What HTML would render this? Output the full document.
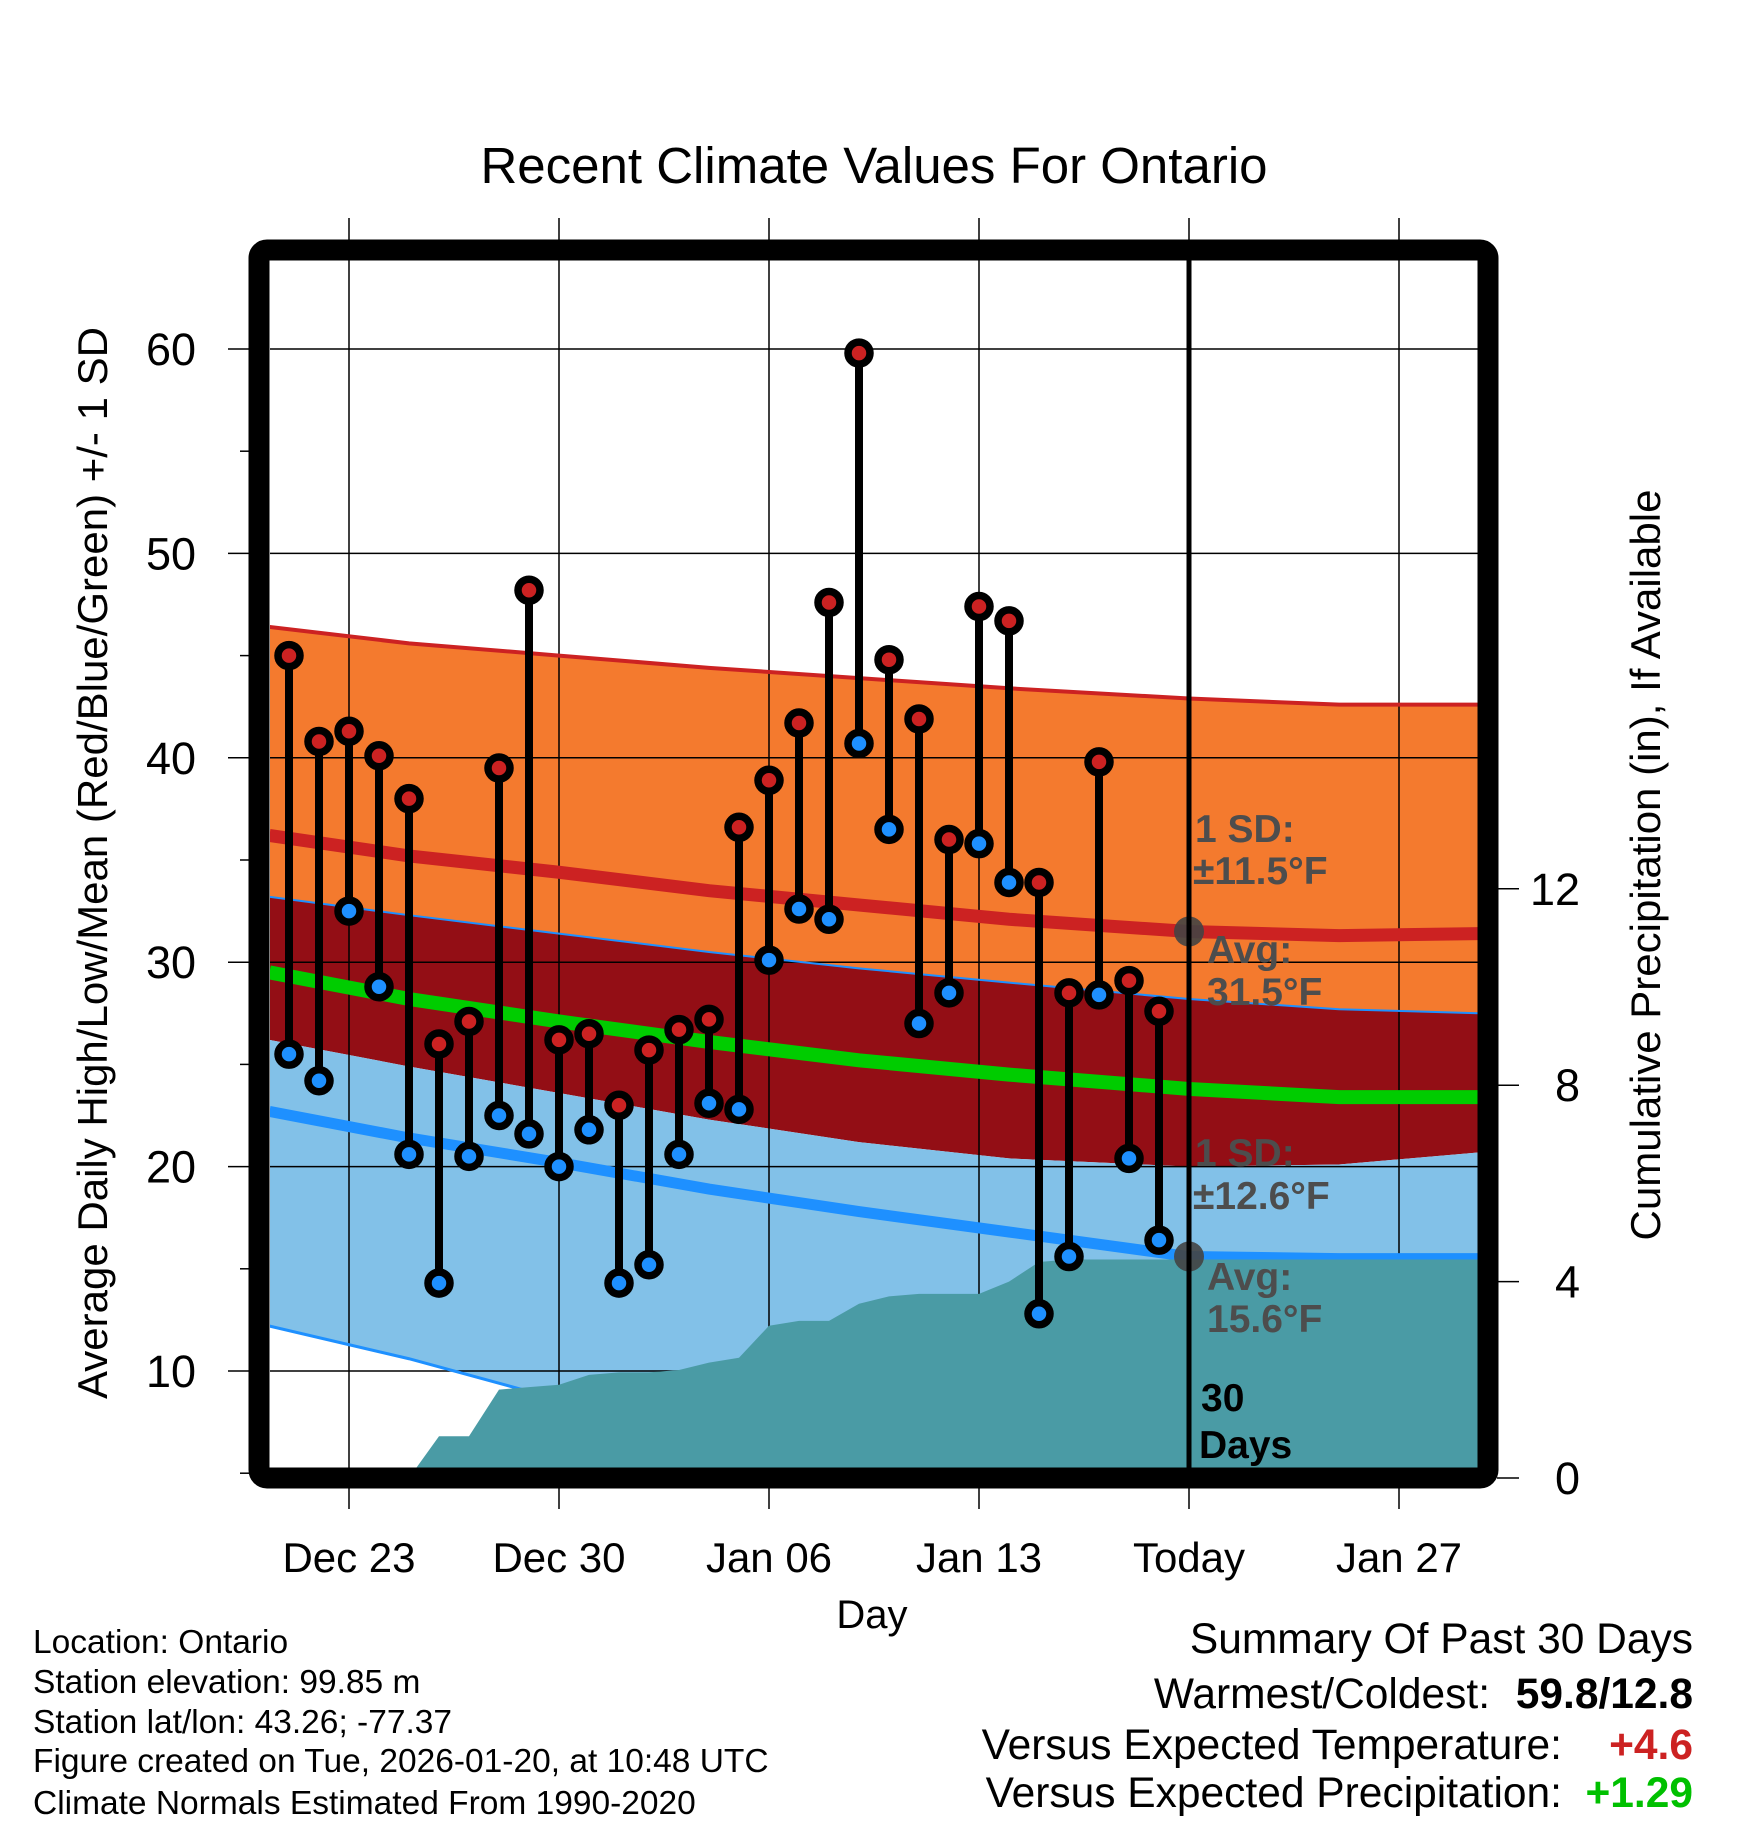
<!DOCTYPE html>
<html><head><meta charset="utf-8"><style>
html,body{margin:0;padding:0;background:#fff}
svg{display:block;font-family:"Liberation Sans",sans-serif}
</style></head><body>
<svg id="chart" width="1748" height="1828" viewBox="0 0 1748 1828" xmlns="http://www.w3.org/2000/svg">
<defs><clipPath id="plotclip"><rect x="270" y="260" width="1208" height="1208"/></clipPath></defs>
<text x="874" y="183" font-size="51" text-anchor="middle">Recent Climate Values For Ontario</text>
<g id="bands" clip-path="url(#plotclip)"></g>
<g id="grid"></g>
<g id="lines" clip-path="url(#plotclip)"></g>
<g id="precip" clip-path="url(#plotclip)"></g>
<g id="annot"></g>
<g id="marks"></g>
<rect x="259" y="250" width="1229" height="1228" fill="none" stroke="#000" stroke-width="21" rx="8"/>
<g id="axes"></g>
<text transform="translate(107,863) rotate(-90)" font-size="42" text-anchor="middle">Average Daily High/Low/Mean (Red/Blue/Green) +/- 1 SD</text>
<text transform="translate(1660,865) rotate(-90)" font-size="42" text-anchor="middle">Cumulative Precipitation (in), If Available</text>
<text x="872" y="1628" font-size="40" text-anchor="middle">Day</text>
<g font-size="33.5">
<text x="33" y="1653">Location: Ontario</text>
<text x="33" y="1693">Station elevation: 99.85 m</text>
<text x="33" y="1733">Station lat/lon: 43.26; -77.37</text>
<text x="33" y="1772">Figure created on Tue, 2026-01-20, at 10:48 UTC</text>
<text x="33" y="1814">Climate Normals Estimated From 1990-2020</text>
</g>
<g font-size="42.5" text-anchor="end">
<text x="1693" y="1653">Summary Of Past 30 Days</text>
<text x="1490" y="1708">Warmest/Coldest:</text>
<text x="1693" y="1708" font-weight="bold">59.8/12.8</text>
<text x="1562" y="1759">Versus Expected Temperature:</text>
<text x="1693" y="1759" font-weight="bold" fill="#cc2222">+4.6</text>
<text x="1562" y="1807">Versus Expected Precipitation:</text>
<text x="1693" y="1807" font-weight="bold" fill="#00c000">+1.29</text>
</g>
<script>
// daily observations, Dec 21 .. Jan 19
const highs = [45.0,40.8,41.3,40.1,38.0,26.0,27.1,39.5,48.2,26.2,26.5,23.0,25.7,26.7,27.2,36.6,38.9,41.7,47.6,59.8,44.8,41.9,36.0,47.4,46.7,33.9,28.5,39.8,29.1,27.6];
const lows = [25.5,24.2,32.5,28.8,20.6,14.3,20.5,22.5,21.6,20.0,21.8,14.3,15.2,20.6,23.1,22.8,30.1,32.6,32.1,40.7,36.5,27.0,28.5,35.8,33.9,12.8,15.6,28.4,20.4,16.4];
const precipCum = [0,0,0,0,0,0.85,0.85,1.8,1.85,1.9,2.1,2.15,2.15,2.2,2.35,2.45,3.1,3.2,3.2,3.55,3.7,3.75,3.75,3.75,4.0,4.4,4.45,4.45,4.45,4.45];
// normals, at node days (days relative to Dec 23)
const normDays = [-2.65,2,7,12,17,22,28,33,37.7];
const normHighPlus = [46.4,45.6,45.0,44.4,43.9,43.4,42.9,42.6,42.6];
const normHigh = [36.2,35.2,34.4,33.5,32.8,32.1,31.5,31.3,31.4];
const normHighMinus = [33.2,32.3,31.4,30.5,29.7,29.0,28.2,27.7,27.5];
const normMean = [29.5,28.2,27.1,26.1,25.2,24.5,23.8,23.4,23.4];
const normLowPlus = [26.2,24.9,23.6,22.3,21.2,20.4,20.0,20.1,20.7];
const normLow = [22.7,21.4,20.2,18.9,17.8,16.8,15.6,15.5,15.5];
const normLowMinus = [12.2,10.6,8.6,6.6,4.6,3.0,1.5,1.0,1.0];
const yTicks = [10,20,30,40,50,60];
const y2Ticks = [0,4,8,12];
const xTickDays = [0,7,14,21,28,35];
const xTickLabels = ["Dec 23","Dec 30","Jan 06","Jan 13","Today","Jan 27"];
const firstDay = -2; // Dec 21 relative to Dec 23
const todayDay = 28;

const NS = "http://www.w3.org/2000/svg";
const X = d => 349 + 30*d;
const Y = v => 349 + (60 - v)*20.44;
const Y2 = p => 1478 - p*49.1;
function mk(parent, tag, attrs){const e=document.createElementNS(NS,tag);for(const k in attrs)e.setAttribute(k,attrs[k]);document.getElementById(parent).appendChild(e);return e;}
function pts(arr){return normDays.map((d,i)=>X(d)+","+Y(arr[i]));}
function band(top,bot,fill,name){
  const p = pts(top).concat(pts(bot).reverse()).join(" ");
  const e = mk("bands","polygon",{points:p,fill:fill});
  
  
}
band(normHighPlus, normHighMinus, "#f47a2e", "high-sd-band");
band(normHighMinus, normLowPlus, "#930e15", "mid-band");
band(normLowPlus, normLowMinus, "#82c1e8", "low-sd-band");
// grid
yTicks.forEach(v=>{const e=mk("grid","line",{x1:270,x2:1478,y1:Y(v),y2:Y(v),stroke:"#000","stroke-width":1.5});
  
  });
xTickDays.forEach(d=>{const e=mk("grid","line",{x1:X(d),x2:X(d),y1:218,y2:1509,stroke:"#000","stroke-width":1.5});
  
  });
function line(arr,color,w,name){
  const e=mk("lines","polyline",{points:pts(arr).join(" "),fill:"none",stroke:color,"stroke-width":w});
  
  
}
line(normHighPlus,"#cc2222",4,"high-plus-sd-line");
line(normHighMinus,"#1e90ff",2,"high-minus-sd-line");
line(normLowMinus,"#1e90ff",3,"low-minus-sd-line");
line(normHigh,"#cc2222",13,"normal-high-line");
line(normMean,"#00cc00",14,"normal-mean-line");
line(normLow,"#1e90ff",11,"normal-low-line");
// precip
{
  let p = [X(-2.65)+","+Y2(precipCum[0])];
  precipCum.forEach((v,i)=>p.push(X(firstDay+i)+","+Y2(v)));
  p.push("1480,"+Y2(precipCum[precipCum.length-1]));
  p.push("1480,1480"); p.push("268,1480");
  const e=mk("precip","polygon",{points:p.join(" "),fill:"#4a9ba5"});
  
  
}
// annotations
{
  const g1=mk("annot","circle",{cx:X(todayDay),cy:Y(normHigh[6]),r:15,fill:"#444","fill-opacity":0.9});
  
  
  const g2=mk("annot","circle",{cx:X(todayDay),cy:Y(normLow[6]),r:15,fill:"#444","fill-opacity":0.9});
  
  
  const labs=[["1 SD:",1195,842,"#4d4d4d"],["±11.5°F",1193,884,"#4d4d4d"],["Avg:",1207,963,"#4d4d4d"],["31.5°F",1207,1005,"#4d4d4d"],
    ["1 SD:",1195,1166,"#4d4d4d"],["±12.6°F",1193,1209,"#4d4d4d"],["Avg:",1207,1290,"#4d4d4d"],["15.6°F",1207,1332,"#4d4d4d"],
    ["30",1201,1411,"#000"],["Days",1199,1458,"#000"]];
  labs.forEach(l=>{const t=mk("annot","text",{x:l[1],y:l[2],fill:l[3],"font-size":39,"font-weight":"bold"});t.textContent=l[0];
    
    });
}
// sticks and dots
highs.forEach((h,i)=>{
  const x=X(firstDay+i);
  const s=mk("marks","line",{x1:x,x2:x,y1:Y(h),y2:Y(lows[i]),stroke:"#000","stroke-width":8});
  
  
});
highs.forEach((h,i)=>{
  const x=X(firstDay+i);
  const a=mk("marks","circle",{cx:x,cy:Y(h),r:11,fill:"#cc2222",stroke:"#000","stroke-width":7.5});
  
  
  const b=mk("marks","circle",{cx:x,cy:Y(lows[i]),r:11,fill:"#1e90ff",stroke:"#000","stroke-width":7.5});
  
  
});
{
  const t=mk("marks","line",{x1:X(todayDay),x2:X(todayDay),y1:260,y2:1470,stroke:"#000","stroke-width":5});
  
  
}
// axes ticks and labels
yTicks.forEach(v=>{
  const t=mk("axes","line",{x1:228,x2:250,y1:Y(v),y2:Y(v),stroke:"#000","stroke-width":1.5});
  
  
  const l=mk("axes","text",{x:196,y:Y(v)+16,"font-size":45,"text-anchor":"end"});l.textContent=v;
  
  
  const m=mk("axes","line",{x1:240,x2:250,y1:Y(v-5),y2:Y(v-5),stroke:"#000","stroke-width":1.5});
  
  
});
y2Ticks.forEach(p=>{
  const t=mk("axes","line",{x1:1497,x2:1519,y1:Y2(p),y2:Y2(p),stroke:"#000","stroke-width":1.5});
  
  
  const l=mk("axes","text",{x:1580,y:Y2(p)+16,"font-size":45,"text-anchor":"end"});l.textContent=p;
  
  
});
xTickDays.forEach((d,i)=>{
  const l=mk("axes","text",{x:X(d),y:1572,"font-size":42,"text-anchor":"middle"});l.textContent=xTickLabels[i];
  
  
});
</script>
</svg>
</body></html>
